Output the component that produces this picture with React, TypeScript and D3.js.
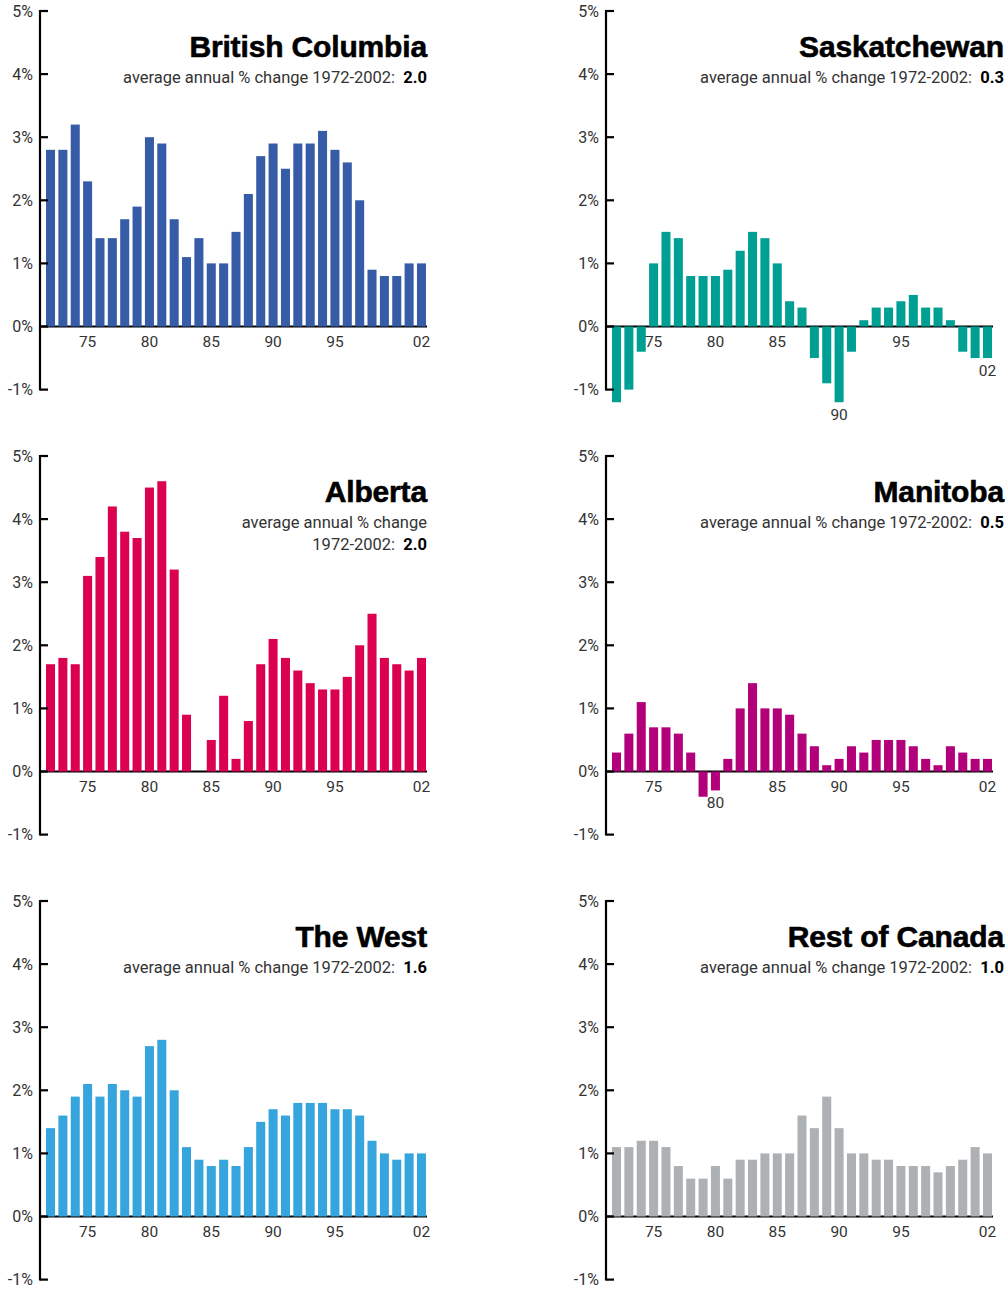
import React from 'react';
import * as d3 from 'd3';

const years = [1972, 1973, 1974, 1975, 1976, 1977, 1978, 1979, 1980, 1981, 1982, 1983, 1984, 1985, 1986, 1987, 1988, 1989, 1990, 1991, 1992, 1993, 1994, 1995, 1996, 1997, 1998, 1999, 2000, 2001, 2002];

const bcValues = [2.8, 2.8, 3.2, 2.3, 1.4, 1.4, 1.7, 1.9, 3.0, 2.9, 1.7, 1.1, 1.4, 1.0, 1.0, 1.5, 2.1, 2.7, 2.9, 2.5, 2.9, 2.9, 3.1, 2.8, 2.6, 2.0, 0.9, 0.8, 0.8, 1.0, 1.0];
const skValues = [-1.2, -1.0, -0.4, 1.0, 1.5, 1.4, 0.8, 0.8, 0.8, 0.9, 1.2, 1.5, 1.4, 1.0, 0.4, 0.3, -0.5, -0.9, -1.2, -0.4, 0.1, 0.3, 0.3, 0.4, 0.5, 0.3, 0.3, 0.1, -0.4, -0.5, -0.5];
const abValues = [1.7, 1.8, 1.7, 3.1, 3.4, 4.2, 3.8, 3.7, 4.5, 4.6, 3.2, 0.9, 0.0, 0.5, 1.2, 0.2, 0.8, 1.7, 2.1, 1.8, 1.6, 1.4, 1.3, 1.3, 1.5, 2.0, 2.5, 1.8, 1.7, 1.6, 1.8];
const mbValues = [0.3, 0.6, 1.1, 0.7, 0.7, 0.6, 0.3, -0.4, -0.3, 0.2, 1.0, 1.4, 1.0, 1.0, 0.9, 0.6, 0.4, 0.1, 0.2, 0.4, 0.3, 0.5, 0.5, 0.5, 0.4, 0.2, 0.1, 0.4, 0.3, 0.2, 0.2];
const westValues = [1.4, 1.6, 1.9, 2.1, 1.9, 2.1, 2.0, 1.9, 2.7, 2.8, 2.0, 1.1, 0.9, 0.8, 0.9, 0.8, 1.1, 1.5, 1.7, 1.6, 1.8, 1.8, 1.8, 1.7, 1.7, 1.6, 1.2, 1.0, 0.9, 1.0, 1.0];
const rocValues = [1.1, 1.1, 1.2, 1.2, 1.1, 0.8, 0.6, 0.6, 0.8, 0.6, 0.9, 0.9, 1.0, 1.0, 1.0, 1.6, 1.4, 1.9, 1.4, 1.0, 1.0, 0.9, 0.9, 0.8, 0.8, 0.8, 0.7, 0.8, 0.9, 1.1, 1.0];

const panelTitles = ['British Columbia', 'Saskatchewan', 'Alberta', 'Manitoba', 'The West', 'Rest of Canada'];
const panelAverages = ['2.0', '0.3', '2.0', '0.5', '1.6', '1.0'];
const panelColors = ['#365ba7', '#009f94', '#db0050', '#b2007b', '#36a4dd', '#aeb1b4'];
const panelSeries = [bcValues, skValues, abValues, mbValues, westValues, rocValues];

const yTicks = [-1, 0, 1, 2, 3, 4, 5];
const xTickYears = [1975, 1980, 1985, 1990, 1995, 2002];
const xTickLabels = ['75', '80', '85', '90', '95', '02'];

const colAxisX = [40, 606];
const colTitleRight = [427, 1004];
const rowTop = [11, 456, 901];

const labelFont = 'Roboto, "Liberation Sans", sans-serif';

type PanelProps = {
  title: string;
  avg: string;
  color: string;
  values: number[];
  axisX: number;
  top: number;
  titleRight: number;
  wrap: boolean;
};

function Panel({ title, avg, color, values, axisX, top, titleRight, wrap }: PanelProps) {
  const x = d3.scaleBand<number>().domain(years).range([axisX + 6, axisX + 386]).paddingInner(0.27).paddingOuter(0);
  const y = d3.scaleLinear().domain([-1, 5]).range([top + 378.6, top]);
  const bw = x.bandwidth();
  const y0 = y(0);
  const subStyle = { fontSize: 16.5, fontWeight: 400, fill: '#333', fontFamily: labelFont } as const;
  return (
    <g>
      <line x1={axisX} x2={axisX + 387} y1={y0} y2={y0} stroke="#000" strokeWidth={2.2} />
      {years.map((yr, i) => {
        const v = values[i];
        const yTop = Math.min(y(v), y0);
        const h = Math.abs(y(v) - y0);
        return <rect key={yr} x={x(yr)} y={yTop} width={bw} height={h} fill={color} />;
      })}
      <line x1={axisX} x2={axisX} y1={y(5) - 1} y2={y(-1) + 1} stroke="#000" strokeWidth={2.2} />
      {yTicks.map((t) => (
        <g key={t}>
          <line x1={axisX} x2={axisX + 8} y1={y(t)} y2={y(t)} stroke="#000" strokeWidth={2.2} />
          <text x={axisX - 7} y={y(t)} dy="0.36em" textAnchor="end" fontSize={16} fontWeight={400} fill="#333" fontFamily={labelFont}>
            {t}%
          </text>
        </g>
      ))}
      {xTickYears.map((yr, i) => {
        const v = values[years.indexOf(yr)];
        const ly = v < 0 ? y(v) + 18 : y0 + 20;
        return (
          <text key={yr} x={(x(yr) as number) + bw / 2} y={ly} textAnchor="middle" fontSize={15.5} fontWeight={400} fill="#333" fontFamily={labelFont}>
            {xTickLabels[i]}
          </text>
        );
      })}
      <text x={titleRight} y={top + 46} textAnchor="end" fontSize={30} fontWeight="bold" fill="#000" stroke="#000" strokeWidth={0.6} fontFamily='"Liberation Sans", Arial, sans-serif' letterSpacing={-0.15}>
        {title}
      </text>
      {wrap ? (
        <g>
          <text x={titleRight} y={top + 72} textAnchor="end" {...subStyle}>
            average annual % change
          </text>
          <text x={titleRight} y={top + 94} textAnchor="end" {...subStyle} style={{ whiteSpace: 'pre' }}>
            {'1972-2002:  '}
            <tspan fontWeight="bold" fill="#000">{avg}</tspan>
          </text>
        </g>
      ) : (
        <text x={titleRight} y={top + 71.5} textAnchor="end" {...subStyle} style={{ whiteSpace: 'pre' }}>
          {'average annual % change 1972-2002:  '}
          <tspan fontWeight="bold" fill="#000">{avg}</tspan>
        </text>
      )}
    </g>
  );
}

export default function App() {
  return (
    <svg width={1008} height={1289} style={{ position: 'absolute', left: 0, top: 0, background: '#fff' }}>
      <rect x={0} y={0} width={1008} height={1289} fill="#fff" />
      {panelTitles.map((t, i) => {
        const col = i % 2;
        const row = Math.floor(i / 2);
        return (
          <Panel
            key={t}
            title={t}
            avg={panelAverages[i]}
            color={panelColors[i]}
            values={panelSeries[i]}
            axisX={colAxisX[col]}
            top={rowTop[row]}
            titleRight={colTitleRight[col]}
            wrap={t === 'Alberta'}
          />
        );
      })}
    </svg>
  );
}
